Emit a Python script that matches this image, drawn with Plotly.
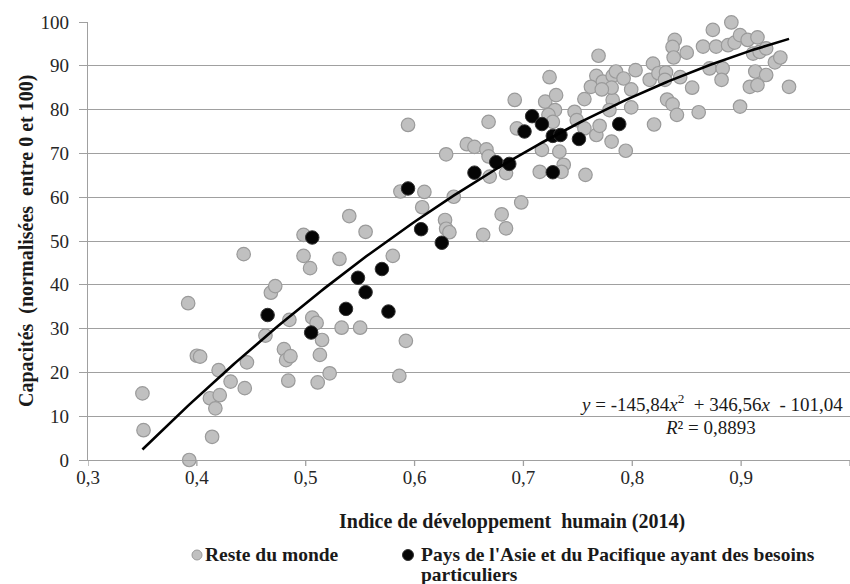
import numpy as np
import plotly.graph_objects as go

# ---- data ----
gray_x = [0.350, 0.351, 0.392, 0.393, 0.400, 0.403, 0.420, 0.412, 0.421, 0.417,
          0.414, 0.431, 0.443, 0.444, 0.446, 0.463, 0.468, 0.472, 0.480, 0.482,
          0.486, 0.485, 0.484, 0.498, 0.498, 0.504, 0.506, 0.510, 0.515, 0.513,
          0.511, 0.522, 0.531, 0.533, 0.540, 0.550, 0.555, 0.580, 0.586, 0.592,
          0.594, 0.587, 0.609, 0.607,
          0.628, 0.629, 0.632, 0.636, 0.629, 0.648, 0.655, 0.666, 0.668, 0.669,
          0.684, 0.668, 0.663, 0.680, 0.684, 0.698, 0.692, 0.694, 0.717, 0.715,
          0.720, 0.724, 0.730, 0.729, 0.723, 0.727, 0.733, 0.737, 0.735, 0.747,
          0.749, 0.756, 0.757, 0.756, 0.767, 0.770, 0.781, 0.794,
          0.769, 0.767, 0.762, 0.773, 0.782, 0.785, 0.792, 0.782, 0.779, 0.799,
          0.799, 0.803, 0.819, 0.816, 0.824, 0.831, 0.830, 0.820, 0.832, 0.837,
          0.841, 0.839, 0.837, 0.838, 0.850, 0.844, 0.855, 0.861, 0.865, 0.874,
          0.877, 0.871, 0.883, 0.882, 0.891, 0.888, 0.894, 0.899, 0.899, 0.906,
          0.915, 0.911, 0.917, 0.923, 0.913, 0.923, 0.908, 0.915, 0.931, 0.936,
          0.944, 0.781, 0.772]
gray_y = [15.2, 6.8, 35.8, 0.0, 23.8, 23.6, 20.5, 14.1, 14.8, 11.8,
          5.3, 17.9, 47.0, 16.4, 22.3, 28.4, 38.2, 39.7, 25.3, 22.8,
          23.7, 32.0, 18.1, 51.4, 46.6, 43.8, 32.5, 31.3, 27.4, 24.0,
          17.7, 19.8, 45.9, 30.2, 55.7, 30.2, 52.1, 46.6, 19.2, 27.2,
          76.5, 61.3, 61.2, 57.7,
          54.8, 52.8, 52.0, 60.1, 69.8, 72.1, 71.5, 70.9, 69.3, 64.7,
          65.5, 77.2, 51.4, 56.1, 52.9, 58.8, 82.2, 75.7, 70.8, 65.8,
          81.8, 87.4, 83.3, 79.9, 78.8, 77.2, 70.4, 67.4, 65.8, 79.5,
          77.6, 82.4, 65.1, 75.7, 74.2, 76.3, 72.7, 70.6,
          92.3, 87.7, 85.2, 86.4, 87.7, 88.7, 87.1, 82.2, 79.9, 84.6,
          80.5, 89.0, 90.5, 86.8, 88.3, 88.5, 86.8, 76.6, 82.3, 81.2,
          78.8, 95.9, 94.3, 91.9, 93.0, 87.4, 85.0, 79.4, 94.4, 98.2,
          94.4, 89.4, 89.4, 86.8, 99.9, 94.7, 95.3, 97.0, 80.7, 95.9,
          96.5, 92.8, 93.2, 94.0, 88.7, 87.9, 85.2, 85.6, 90.8, 91.9,
          85.2, 85.0, 84.6]

asie_x = [0.465, 0.506, 0.505, 0.537, 0.548, 0.555, 0.570, 0.576, 0.594, 0.606,
          0.625, 0.655, 0.675, 0.687, 0.701, 0.708, 0.717, 0.727, 0.734, 0.751,
          0.727, 0.788]
asie_y = [33.1, 50.8, 29.1, 34.5, 41.6, 38.3, 43.6, 33.9, 62.0, 52.7,
          49.6, 65.6, 68.0, 67.6, 75.0, 78.5, 76.7, 74.0, 74.2, 73.3,
          65.7, 76.7]

# trendline coefficients shown on the chart
coef_a, coef_b, coef_c = -145.84, 346.56, -101.04
r2_text = "0,8893"

x_ticks = [0.3, 0.4, 0.5, 0.6, 0.7, 0.8, 0.9, 1.0]
x_ticklabels = ["0,3", "0,4", "0,5", "0,6", "0,7", "0,8", "0,9", "1"]
y_ticks = [0, 10, 20, 30, 40, 50, 60, 70, 80, 90, 100]

legend_gray = "Reste du monde"
legend_asie_1 = "Pays de l'Asie et du Pacifique ayant des besoins"
legend_asie_2 = "particuliers"

# ---- figure ----
FONT = "Liberation Serif"
TXT = "#262626"
GRID = "#A0A0A0"

all_x = gray_x + asie_x
trend_x = np.linspace(min(all_x), max(all_x), 200)
trend_y = coef_a * trend_x ** 2 + coef_b * trend_x + coef_c

fig = go.Figure()
fig.add_trace(go.Scatter(
    x=gray_x, y=gray_y, mode="markers", name=legend_gray, cliponaxis=False,
    marker=dict(size=13.5, color="#C0C0C0", line=dict(color="#9A9A9A", width=1.2)),
    showlegend=False))
fig.add_trace(go.Scatter(
    x=asie_x, y=asie_y, mode="markers", name=legend_asie_1 + " " + legend_asie_2,
    cliponaxis=False,
    marker=dict(size=13.5, color="#050505", line=dict(color="#333333", width=1)),
    showlegend=False))
fig.add_trace(go.Scatter(
    x=trend_x, y=trend_y, mode="lines", cliponaxis=False,
    line=dict(color="#000000", width=2.6), showlegend=False, hoverinfo="skip"))

W, H = 850, 584
L, R, T, B = 88, 0, 22, 124
PW, PH = W - L - R, H - T - B


def px(xp):
    return (xp - L) / PW


def py(yp):
    return (H - B - yp) / PH


def note(text, x, y, xanchor="center", angle=0, size=19):
    return dict(text=text, x=px(x), y=py(y), xref="paper", yref="paper",
                showarrow=False, xanchor=xanchor, yanchor="middle", textangle=angle,
                font=dict(size=size, family=FONT, color="#1a1a1a"))


annotations = [
    note("<b>Indice de développement\u00a0\u00a0humain (2014)</b>", 512, 521, size=20),
    note("<b>Capacités\u00a0\u00a0(normalisées\u00a0\u00a0entre 0 et 100)</b>", 26, 241,
         angle=-90, size=20),
    note("<i>y</i> = -145,84<i>x</i><sup>2</sup>\u00a0 + 346,56<i>x</i>\u00a0 - 101,04", 711, 403),
    note("<i>R</i>² = " + r2_text, 710, 427),
    note("<b>" + legend_gray + "</b>", 203, 554, xanchor="left", size=19.5),
    note("<b>" + legend_asie_1 + "</b>", 419, 554, xanchor="left", size=19.5),
    note("<b>" + legend_asie_2 + "</b>", 419, 574, xanchor="left", size=19.5),
]

shapes = [
    dict(type="circle", xref="paper", yref="paper", xsizemode="pixel", ysizemode="pixel",
         xanchor=px(197), yanchor=py(555), x0=-5, x1=5, y0=-5, y1=5,
         fillcolor="#C0C0C0", line=dict(color="#9A9A9A", width=1)),
    dict(type="circle", xref="paper", yref="paper", xsizemode="pixel", ysizemode="pixel",
         xanchor=px(408), yanchor=py(555), x0=-5.5, x1=5.5, y0=-5.5, y1=5.5,
         fillcolor="#050505", line=dict(color="#333333", width=1)),
]
# x-axis tick marks drawn as short lines below the axis (labels sit closer to the axis)
for xv in x_ticks:
    shapes.append(dict(type="line", xref="x", yref="paper", ysizemode="pixel", yanchor=0,
                       x0=xv, x1=xv, y0=0, y1=-6, line=dict(color=GRID, width=1.3)))

fig.update_layout(
    width=W, height=H,
    margin=dict(l=L, r=R, t=T, b=B, autoexpand=False),
    paper_bgcolor="white", plot_bgcolor="white",
    font=dict(family=FONT, size=19, color=TXT),
    showlegend=False,
    annotations=annotations,
    shapes=shapes,
    xaxis=dict(range=[0.3, 1.0], tickvals=x_ticks, ticktext=x_ticklabels,
               showgrid=False, zeroline=False, showline=True, linecolor=GRID, linewidth=1.3,
               ticks="", tickfont=dict(size=19, family=FONT, color=TXT),
               fixedrange=True),
    yaxis=dict(range=[0, 100], tickvals=y_ticks,
               showgrid=True, gridcolor=GRID, gridwidth=1.3, zeroline=False,
               showline=True, linecolor=GRID, linewidth=1.3,
               ticks="outside", ticklen=8, tickcolor=GRID, tickwidth=1.3,
               tickfont=dict(size=19, family=FONT, color=TXT), ticklabelstandoff=6,
               fixedrange=True),
)

fig.write_html("out.html")
